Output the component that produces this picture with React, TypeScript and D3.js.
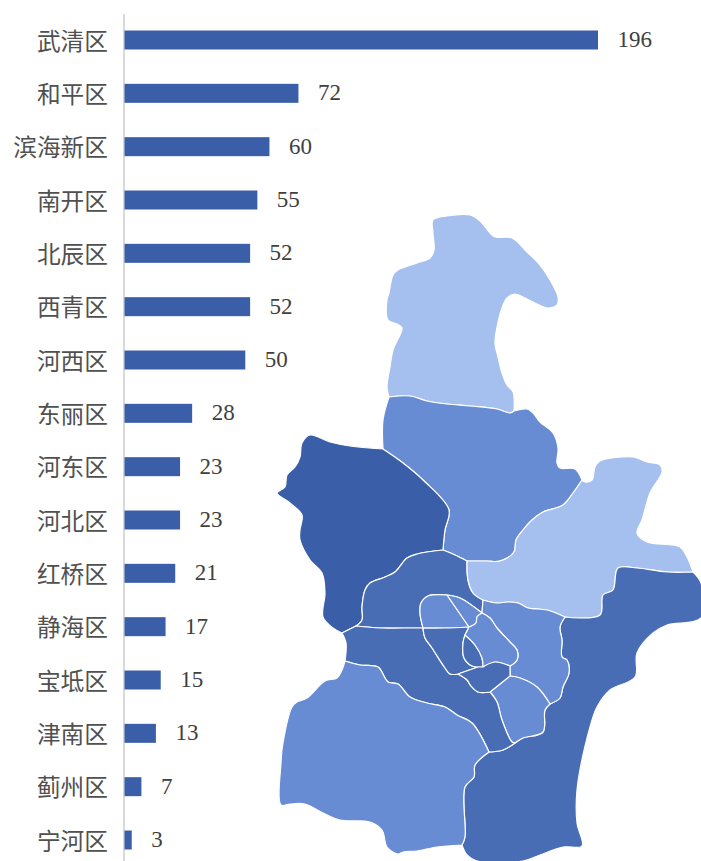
import React from "react";
import * as d3 from "d3";

const districts = ["武清区","和平区","滨海新区","南开区","北辰区","西青区","河西区","东丽区","河东区","河北区","红桥区","静海区","宝坻区","津南区","蓟州区","宁河区"];
const counts = [196,72,60,55,52,52,50,28,23,23,21,17,15,13,7,3];

const LIGHT = "#A5BFEE", MID = "#678CD3", DARK = "#486DB5", DARKEST = "#3A5FA8";

type Pt = [number, number];
// Shared boundary arcs of the map outline
const arcs: Record<string, Pt[]> = {
  jiOuter: [[514,411],[513,392],[507,385],[502,373],[498,357],[495,343],[497,327],[502,308],[507,298],[515,294],[523,297],[537,304],[548,308],[557,305],[558,297],[550,280],[540,265],[527,252],[512,238],[495,237],[490,233],[480,221],[470,215],[447,216],[433,220],[433,233],[434,250],[430,258],[417,263],[398,270],[393,275],[389,293],[387,300],[388,320],[397,324],[402,328],[393,350],[390,367],[387,387],[389,397]],
  jiBao: [[389,397],[410,396],[427,401],[447,404],[470,406],[497,409],[510,413],[514,411]],
  baoOuterE: [[514,411],[527,409],[533,413],[540,422],[553,433],[558,448],[557,463],[560,468],[575,469],[582,480]],
  baoNin: [[582,480],[573,493],[563,505],[543,512],[532,520],[523,530],[516,540],[514,552],[500,561],[487,561],[467,561]],
  baoBei: [[467,561],[455,555],[443,550]],
  baoWu: [[443,550],[445,530],[449,510],[423,480],[403,463],[383,449]],
  baoOuterW: [[383,449],[383,420],[389,397]],
  wuOuter: [[383,449],[350,446],[330,442],[310,435],[302,443],[300,457],[295,467],[287,475],[285,487],[277,493],[290,503],[302,515],[300,530],[300,540],[310,560],[322,573],[325,593],[323,617],[333,628],[342,633]],
  wuBei: [[443,550],[417,554],[407,558],[395,572],[385,577],[370,583],[365,590],[362,607],[362,620],[356,626]],
  wuXi: [[356,626],[342,633]],
  beiXi: [[356,626],[380,628],[403,628],[423,628]],
  beiHong: [[423,628],[420,613],[421,603],[428,596],[447,595]],
  beiHeb: [[447,595],[460,598],[482,613]],
  beiDon: [[482,613],[483,600]],
  beiNin: [[483,600],[473,593],[468,580],[467,561]],
  ninOuter: [[582,480],[585,482],[592,480],[595,467],[600,461],[633,457],[647,462],[660,465],[662,472],[650,493],[642,520],[637,533],[647,542],[680,547],[687,557],[693,572]],
  ninBin: [[693,572],[667,572],[637,568],[618,568],[613,590],[603,595],[600,615],[565,617]],
  ninDon: [[565,617],[547,610],[528,608],[518,603],[507,602],[497,603],[483,600]],
  binOuter: [[693,572],[701,583],[701,618],[667,625],[653,633],[637,653],[635,677],[610,690],[597,707],[590,727],[577,790],[577,823],[582,846],[563,847],[540,855],[523,861],[477,861],[467,855],[462,845]],
  binJing: [[462,845],[465,837],[465,787],[474,777],[475,765],[489,752]],
  binXi: [[489,752],[503,750],[515,743]],
  binJin: [[515,743],[523,738],[543,732],[545,710],[550,704]],
  binDon: [[550,704],[560,698],[563,687],[569,673],[567,660],[562,657],[562,640],[560,627],[565,617]],
  donJin: [[510,676],[520,678],[537,687],[550,704]],
  donHex: [[510,666],[510,676]],
  donHed: [[482,613],[490,618],[497,628],[510,642],[517,650],[517,660],[510,666]],
  jinHex: [[510,676],[490,692]],
  jinXi: [[490,692],[497,702],[502,720],[512,742],[515,743]],
  xiNan: [[423,628],[425,638],[432,648],[445,668],[450,674],[458,674]],
  xiHex: [[458,674],[467,680],[471,686],[478,692],[490,692]],
  xiJing: [[345,661],[360,665],[378,667],[388,682],[398,684],[410,697],[427,703],[445,707],[457,715],[472,723],[489,752]],
  xiOuter: [[345,661],[346,643],[342,633]],
  jinOuter: [[345,661],[342,670],[337,678],[325,681],[307,698],[297,702],[292,707],[283,743],[281,763],[281,805],[290,804],[305,804],[323,813],[340,820],[370,822],[382,830],[387,847],[398,854],[403,852],[417,851],[437,847],[462,845]],
  hongHeb: [[447,595],[469,627]],
  hongNan: [[423,628],[445,628],[469,627]],
  hebHed: [[482,613],[477,617],[476,623],[469,627]],
  nanHed: [[469,627],[465,635]],
  nanHep: [[465,635],[463,643],[464,658],[472,666],[478,667]],
  nanHex: [[478,667],[458,674]],
  hepHed: [[465,635],[475,645],[482,658],[483,667]],
  hepHex: [[478,667],[483,667]],
  hedHex: [[483,667],[495,662],[510,666]],
};

// Regions as rings of arcs; a leading "-" walks the arc backwards
const regions: { ring: string[]; fill: string }[] = [
  { fill: LIGHT, ring: ["jiOuter","jiBao"] },
  { fill: MID, ring: ["jiBao","baoOuterE","baoNin","baoBei","baoWu","baoOuterW"] },
  { fill: DARKEST, ring: ["baoWu","-wuBei","wuXi","-wuOuter"].map(s => s === "baoWu" ? "-baoWu" : s === "-wuBei" ? "wuBei" : s) },
  { fill: DARK, ring: ["beiXi","beiHong","beiHeb","beiDon","beiNin","baoBei","wuBei"] },
  { fill: LIGHT, ring: ["ninOuter","ninBin","ninDon","beiNin","-baoNin"] },
  { fill: DARK, ring: ["binOuter","binJing","binXi","binJin","binDon","-ninBin"] },
  { fill: MID, ring: ["-ninDon","-binDon","-donJin","-donHex","-donHed","beiDon"] },
  { fill: MID, ring: ["donJin","-binJin","-jinXi","-jinHex"] },
  { fill: DARK, ring: ["beiXi","xiNan","xiHex","jinXi","-binXi","-xiJing","xiOuter","-wuXi"] },
  { fill: MID, ring: ["xiJing","-binJing","-jinOuter"] },
  { fill: MID, ring: ["beiHong","hongHeb","-hongNan"] },
  { fill: MID, ring: ["beiHeb","hebHed","-hongHeb"] },
  { fill: DARK, ring: ["hongNan","nanHed","nanHep","nanHex","-xiNan"] },
  { fill: DARK, ring: ["hepHed","-hepHex","-nanHep"] },
  { fill: MID, ring: ["donHed","-hedHex","-hepHed","-nanHed","-hebHed"] },
  { fill: DARK, ring: ["-nanHex","hepHex","hedHex","donHex","jinHex","-xiHex"] },
];

export default function App() {
  const x = d3.scaleLinear().domain([0, 196]).range([124.5, 598]);
  const y = d3.scalePoint<string>().domain(districts).range([40, 840]);
  const curve = d3.line<Pt>().x(d => d[0]).y(d => d[1]).curve(d3.curveCatmullRom.alpha(0.5));
  const ringPath = (ring: string[]) =>
    ring.map((name, i) => {
      const back = name.startsWith("-");
      const pts = arcs[back ? name.slice(1) : name];
      const d = curve(back ? [...pts].reverse() : pts) ?? "";
      return i ? d.replace(/^M/, "L") : d;
    }).join("") + "Z";
  const barH = 19;
  return (
    <svg width={701} height={861} style={{ position: "absolute", left: 0, top: 0, background: "#fff" }}>
      {regions.map((r, i) => (
        <path key={i} d={ringPath(r.ring)} fill={r.fill} stroke="#fff" strokeWidth={1.2} strokeLinejoin="round" />
      ))}
      <line x1={124} x2={124} y1={14} y2={861} stroke="#D9D9D9" strokeWidth={2} />
      {districts.map((d, i) => {
        const cy = y(d) as number;
        return (
          <g key={d}>
            <rect x={x(0)} y={cy - barH / 2} width={x(counts[i]) - x(0)} height={barH} fill={DARKEST} />
            <text x={108} y={cy - 0.5} textAnchor="end" dominantBaseline="central" fontFamily='"Noto Sans CJK SC"' fontSize={23.7} fill="#505050">{d}</text>
            <text x={x(counts[i]) + 19.5} y={cy - 0.5} dominantBaseline="central" fontFamily='"Liberation Serif"' fontSize={23} fill="#404040">{counts[i]}</text>
          </g>
        );
      })}
    </svg>
  );
}
